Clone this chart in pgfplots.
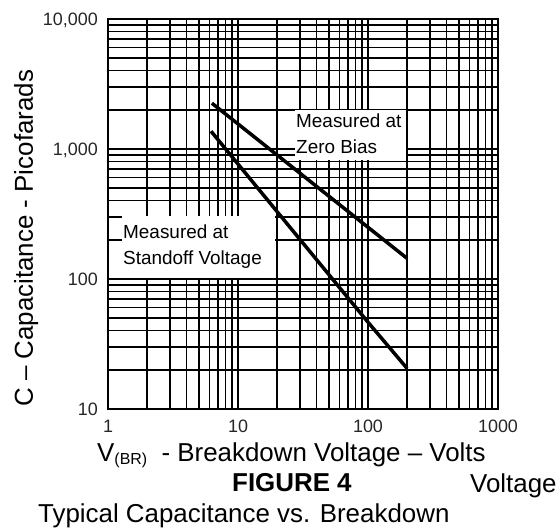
\documentclass[border=0pt]{standalone}
\usepackage{pgfplots}
\pgfplotsset{compat=1.18}
\usepackage{fontspec}
\setmainfont{Liberation Sans}
\begin{document}
\begin{tikzpicture}[x=1bp,y=1bp]
\useasboundingbox (-108,-119) rectangle (452,409);
\begin{axis}[
  at={(0,0)}, anchor=south west,
  scale only axis, width=390bp, height=390bp,
  xmode=log, ymode=log,
  xmin=1, xmax=1000, ymin=10, ymax=10000,
  xtick={1,10,100,1000}, xticklabels={1,10,100,1000},
  ytick={10,100,1000,10000}, yticklabels={10,100,{1,000},{10,000}},
  /pgf/number format/assume math mode=true,
  major tick length=0pt, minor tick length=0pt,
  grid=both,
  major grid style={black, line width=1.3bp},
  minor grid style={black, line width=1.3bp},
  axis line style={black, line width=1.5bp},
  ticklabel style={font=\fontsize{18}{18}\selectfont, color=black!85},
  xticklabel style={anchor=base, inner sep=0pt, yshift=-24bp},
  yticklabel style={anchor=base east, inner sep=0pt, xshift=-10bp, yshift=-7bp},
]
\addplot[black, line width=3.5bp, no markers] coordinates {(6.3,2250) (200,144)};
\addplot[black, line width=3.5bp, no markers] coordinates {(6.2,1370) (100,46.5) (200,20.5)};
\end{axis}
% label boxes
\fill[white] (187,249) rectangle (298,299);
\node[anchor=base west, inner sep=0pt, font=\fontsize{19}{19}\selectfont] at (188,281) {Measured at};
\node[anchor=base west, inner sep=0pt, font=\fontsize{19}{19}\selectfont] at (188,255) {Zero Bias};
\fill[white] (14,131) rectangle (167,193);
\node[anchor=base west, inner sep=0pt, font=\fontsize{19}{19}\selectfont] at (15,170) {Measured at};
\node[anchor=base west, inner sep=0pt, font=\fontsize{19}{19}\selectfont] at (15,144) {Standoff Voltage};
% axis labels
\node[anchor=base west, inner sep=0pt, rotate=90, font=\fontsize{26}{26}\selectfont] at (-75,2) {C – Capacitance - Picofarads};
\node[anchor=base west, inner sep=0pt, font=\fontsize{26}{26}\selectfont] at (-11,-53) {V\raisebox{-3bp}{\fontsize{16}{16}\selectfont (BR)}\ \ - Breakdown Voltage – Volts};
\node[anchor=base west, inner sep=0pt, font=\fontsize{26}{26}\selectfont\bfseries] at (124,-83) {FIGURE 4};
\node[anchor=base west, inner sep=0pt, font=\fontsize{26}{26}\selectfont] at (-70,-113) {Typical Capacitance vs. Breakdown};
\node[anchor=base west, inner sep=0pt, font=\fontsize{26}{26}\selectfont] at (362,-84) {Voltage};
\end{tikzpicture}
\end{document}
